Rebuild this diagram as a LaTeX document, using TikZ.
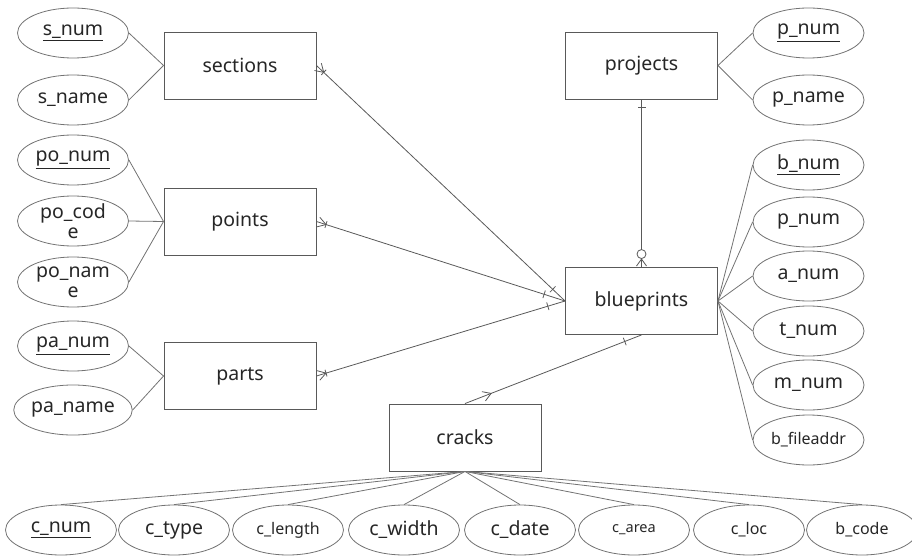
\documentclass[tikz,border=0pt]{standalone}
\usepackage{fontspec}
\setmainfont{Noto Sans}
\usetikzlibrary{calc,shapes.geometric}

% crow's foot: toes at the edge #1, vertex pointing toward #2
\newcommand{\ermany}[2]{%
  \draw[rel] ($(#1)!2pt!(#2)!5pt!90:(#2)$) -- ($(#1)!10pt!(#2)$) -- ($(#1)!2pt!(#2)!5pt!-90:(#2)$);
  \draw[rel] ($(#1)!10pt!(#2)!3.5pt!90:(#2)$) -- ($(#1)!10pt!(#2)!3.5pt!-90:(#2)$);}
% single bar across the line from #1 toward #2, at distance #3 from #1
\newcommand{\erbar}[3]{%
  \draw[rel] ($(#1)!#3!(#2)!4pt!90:(#2)$) -- ($(#1)!#3!(#2)!4pt!-90:(#2)$);}

\begin{document}
\begin{tikzpicture}[x=1pt,y=-1pt,
  ent/.style={draw=black!65,line width=0.9pt,minimum width=152pt,minimum height=67pt,
    inner sep=0pt,text=black!85,font=\fontsize{19.5}{21}\selectfont},
  attr/.style={draw=black!55,line width=0.8pt,ellipse,minimum width=111pt,minimum height=50pt,
    inner sep=0pt,text=black!85,align=center,font=\fontsize{19.5}{20}\selectfont},
  small/.style={font=\fontsize{16}{18}\selectfont},
  link/.style={draw=black!55,line width=0.8pt},
  rel/.style={draw=black!65,line width=0.8pt}]
\useasboundingbox (0,0) rectangle (912,556);

% entities
\node[ent] (sections)   at (240,65.5)  {sections};
\node[ent] (points)     at (240,221.5) {points};
\node[ent] (parts)      at (240,376)   {parts};
\node[ent] (projects)   at (641.5,65.5){projects};
\node[ent] (blueprints) at (641.5,301) {blueprints};
\node[ent] (cracks)     at (465,437.5) {cracks};

% attributes on the left
\node[attr] (snum)   at (73,33)  {\underline{s\_num}};
\node[attr] (sname)  at (73,100) {s\_name};
\node[attr] (ponum)  at (73,160) {\underline{po\_num}};
\node[attr] (pocode) at (73,221) {po\_cod\\e};
\node[attr] (poname) at (73,282) {po\_nam\\e};
\node[attr] (panum)  at (73,346) {\underline{pa\_num}};
\node[attr] (paname) at (73,410) {pa\_name};

% attributes on the right
\node[attr] (pnum)   at (808.5,33)  {\underline{p\_num}};
\node[attr] (pname)  at (808.5,100) {p\_name};
\node[attr] (bnum)   at (808.5,165) {\underline{b\_num}};
\node[attr] (bpnum)  at (808.5,222) {p\_num};
\node[attr] (anum)   at (808.5,276) {a\_num};
\node[attr] (tnum)   at (808.5,331) {t\_num};
\node[attr] (mnum)   at (808.5,385) {m\_num};
\node[attr,small] (bfile) at (808.5,440) {b\_fileaddr};

% attributes of cracks
\node[attr] (cnum)    at (61,530)  {\underline{c\_num}};
\node[attr] (ctype)   at (174,530) {c\_type};
\node[attr,small] (clength) at (288,530) {c\_length};
\node[attr] (cwidth)  at (404,530) {c\_width};
\node[attr] (cdate)   at (520,530) {c\_date};
\node[attr,font=\fontsize{14.5}{16}\selectfont] (carea) at (634,530) {c\_area};
\node[attr,small] (cloc)  at (749,530) {c\_loc};
\node[attr,small] (bcode) at (862,530) {b\_code};

% attribute links
\foreach \a in {snum,sname} \draw[link] (\a.east) -- (sections.west);
\foreach \a in {ponum,pocode,poname} \draw[link] (\a.east) -- (points.west);
\foreach \a in {panum,paname} \draw[link] (\a.east) -- (parts.west);
\foreach \a in {pnum,pname} \draw[link] (projects.east) -- (\a.west);
\foreach \a in {bnum,bpnum,anum,tnum,mnum,bfile} \draw[link] (blueprints.east) -- (\a.west);
\foreach \a in {cnum,ctype,clength,cwidth,cdate,carea,cloc,bcode} \draw[link] (cracks.south) -- (\a.north);

% relationships
\draw[rel] (sections.east) -- (blueprints.west);
\ermany{sections.east}{blueprints.west}
\erbar{blueprints.west}{sections.east}{17pt}

\draw[rel] (points.east) -- (blueprints.west);
\ermany{points.east}{blueprints.west}
\erbar{blueprints.west}{points.east}{22pt}

\draw[rel] (parts.east) -- (blueprints.west);
\ermany{parts.east}{blueprints.west}
\erbar{blueprints.west}{parts.east}{18pt}

\draw[rel] (cracks.north) -- (blueprints.south);
\draw[rel] ($(cracks.north)!20pt!(blueprints.south)!5pt!90:(blueprints.south)$) -- ($(cracks.north)!28pt!(blueprints.south)$) -- ($(cracks.north)!20pt!(blueprints.south)!5pt!-90:(blueprints.south)$);
\erbar{blueprints.south}{cracks.north}{18pt}

\draw[rel] (projects.south) -- (blueprints.north);
\erbar{projects.south}{blueprints.north}{8pt}
\draw[rel] ($(blueprints.north)!1pt!(projects.south)!5pt!90:(projects.south)$) -- ($(blueprints.north)!8pt!(projects.south)$) -- ($(blueprints.north)!1pt!(projects.south)!5pt!-90:(projects.south)$);
\draw[rel,fill=white] ($(blueprints.north)!13pt!(projects.south)$) circle (4.5pt);
\end{tikzpicture}
\end{document}
